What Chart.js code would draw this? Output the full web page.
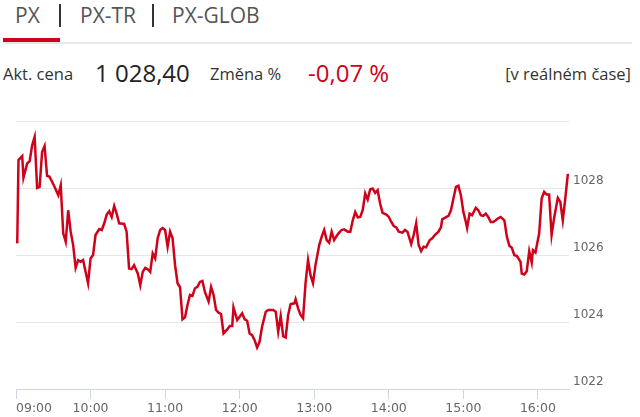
<!DOCTYPE html>
<html lang="cs">
<head>
<meta charset="utf-8">
<script src="https://cdn.jsdelivr.net/npm/chart.js@4.4.1/dist/chart.umd.min.js"></script>
<style>
  html, body { margin: 0; padding: 0; background: #fff; }
  body { width: 640px; height: 417px; position: relative; overflow: hidden; font-family: "Open Sans", sans-serif; }
  .t { position: absolute; white-space: nowrap; line-height: 1; }
  .tab { font-size: 21px; color: #555; top: 5px; }
  .sep { position: absolute; top: 4px; width: 2px; height: 23px; background: #333; }
  .lbl { font-size: 16.5px; color: #333; top: 66px; }
  .val { font-size: 24px; top: 61px; }
  #wrap { position: absolute; left: 0; top: 110px; width: 640px; height: 307px; }
</style>
</head>
<body>
<div class="t tab" style="left:15px">PX</div>
<div class="sep" style="left:59px"></div>
<div class="t tab" style="left:80px">PX-TR</div>
<div class="sep" style="left:152px"></div>
<div class="t tab" style="left:172px">PX-GLOB</div>
<div style="position:absolute;left:3px;top:42px;width:629px;height:2px;background:#e8e8e8"></div>
<div style="position:absolute;left:3px;top:38px;width:57px;height:4px;background:#d0021b"></div>

<div class="t lbl" style="left:3px">Akt. cena</div>
<div class="t val" style="left:95px;color:#222">1 028,40</div>
<div class="t lbl" style="left:210px">Změna %</div>
<div class="t val" style="left:308px;color:#d0021b">-0,07 %</div>
<div class="t lbl" style="right:9px">[v reálném čase]</div>

<div id="wrap"><canvas id="chart"></canvas></div>

<script>
// minutes after midnight
const times = [541, 542, 545, 546, 549, 551, 553, 555, 557, 559, 561, 563, 565, 567, 569, 571, 574, 576, 578, 580,
  582, 584, 586, 588, 590, 592, 594, 596, 598, 600, 602, 604, 607, 609, 611, 613, 615, 617, 619, 621,
  623, 627, 629, 631, 633, 635, 638, 640, 642, 644, 646, 648, 650, 652, 654, 656, 658, 660, 662, 664,
  666, 668, 670, 672, 674, 676, 678, 680, 682, 684, 686, 688, 690, 692, 695, 697, 699, 701, 703, 705,
  707, 710, 712, 714, 715, 718, 720, 722, 724, 726, 728, 730, 732, 734, 736, 738, 741, 743, 747, 749,
  751, 753, 755, 757, 759, 761, 764, 765, 767, 769, 771, 773, 775, 777, 779, 781, 784, 786, 788, 790,
  792, 794, 796, 798, 800, 802, 804, 807, 809, 811, 813, 815, 817, 819, 821, 823, 825, 827, 829, 831,
  833, 835, 838, 840, 842, 844, 846, 848, 851, 853, 855, 858, 860, 862, 864, 866, 868, 870, 873, 875,
  877, 880, 882, 883, 885, 888, 890, 892, 894, 896, 898, 900, 902, 903, 905, 907, 910, 912, 914, 916,
  918, 920, 922, 924, 926, 928, 930, 933, 935, 937, 939, 941, 943, 946, 947, 949, 951, 953, 955, 956,
  958, 961, 963, 965, 967, 969, 971, 973, 976, 978, 980, 982, 984, 985];

const prices = [1026.35, 1028.84, 1028.96, 1028.31, 1028.74, 1028.81, 1029.28, 1029.53, 1028.01, 1028.04,
  1029.08, 1029.26, 1028.37, 1028.34, 1028.19, 1028.04, 1027.79, 1028.09, 1026.65, 1026.40,
  1027.34, 1026.70, 1026.30, 1025.62, 1025.85, 1025.80, 1025.85, 1025.50, 1025.16, 1025.90,
  1026.00, 1026.60, 1026.78, 1026.75, 1026.95, 1027.21, 1027.31, 1027.14, 1027.47, 1027.24,
  1026.95, 1026.93, 1026.70, 1025.60, 1025.58, 1025.70, 1025.45, 1025.10, 1025.50, 1025.62,
  1025.58, 1025.50, 1026.05, 1025.90, 1026.50, 1026.75, 1026.81, 1026.75, 1026.25, 1026.70,
  1026.50, 1025.70, 1025.16, 1025.04, 1024.08, 1024.14, 1024.51, 1024.81, 1024.78, 1025.01,
  1025.05, 1025.20, 1025.23, 1024.90, 1024.61, 1025.05, 1024.81, 1024.36, 1024.28, 1024.24,
  1023.66, 1023.78, 1023.88, 1023.88, 1024.44, 1024.06, 1024.16, 1024.26, 1024.08, 1024.04,
  1023.66, 1023.61, 1023.46, 1023.24, 1023.41, 1023.86, 1024.31, 1024.36, 1024.36, 1024.31,
  1023.71, 1024.18, 1023.58, 1023.54, 1024.21, 1024.54, 1024.56, 1024.68, 1024.41, 1024.21,
  1024.11, 1025.16, 1025.85, 1025.40, 1025.16, 1025.70, 1026.30, 1026.55, 1026.75, 1026.45,
  1026.37, 1026.70, 1026.45, 1026.57, 1026.67, 1026.75, 1026.77, 1026.70, 1026.70, 1027.04,
  1027.29, 1027.13, 1027.14, 1027.34, 1027.84, 1027.66, 1027.96, 1027.99, 1027.86, 1027.94,
  1027.54, 1027.26, 1027.21, 1027.14, 1026.99, 1026.87, 1026.83, 1026.70, 1026.67, 1026.75,
  1026.70, 1026.33, 1026.60, 1026.95, 1026.30, 1026.12, 1026.25, 1026.23, 1026.45, 1026.50,
  1026.60, 1026.70, 1026.84, 1027.07, 1027.11, 1027.17, 1027.34, 1027.69, 1028.04, 1028.07,
  1027.79, 1027.29, 1026.99, 1026.81, 1027.24, 1027.19, 1027.41, 1027.34, 1027.19, 1027.17,
  1027.24, 1027.14, 1026.99, 1026.99, 1027.04, 1027.10, 1027.14, 1027.04, 1026.55, 1026.28,
  1026.22, 1026.00, 1025.98, 1025.80, 1025.45, 1025.42, 1025.52, 1026.12, 1025.78, 1026.15,
  1026.08, 1026.65, 1027.69, 1027.89, 1027.81, 1027.81, 1026.60, 1027.10, 1027.71, 1027.59,
  1027.04, 1027.69, 1028.39, 1028.40];

const xTicks = [540, 600, 660, 720, 780, 840, 900, 960];
const yTicks = [1022, 1024, 1026, 1028, 1030];
const xMin = 540, xMax = 985;

const hhmm = (m) => String(Math.floor(m / 60)).padStart(2, "0") + ":" + String(m % 60).padStart(2, "0");

const ctx = document.getElementById("chart").getContext("2d");
new Chart(ctx, {
  type: "line",
  data: {
    datasets: [
      {
        data: times.map((t, i) => ({ x: t, y: prices[i] })),
        borderColor: "#d0021b",
        borderWidth: 2.5,
        pointRadius: 0,
        tension: 0,
      },
    ],
  },
  options: {
    responsive: true,
    maintainAspectRatio: false,
    animation: false,
    layout: { padding: { top: 11, left: 16, right: 0, bottom: 0 } },
    plugins: { legend: { display: false }, tooltip: { enabled: false } },
    scales: {
      x: {
        type: "linear",
        min: xMin,
        max: xMax,
        // extra tick at the end keeps the 16:00 label centred under "inner" alignment
        afterBuildTicks: (s) => { s.ticks = xTicks.concat([xMax]).map((v) => ({ value: v })); },
        afterFit: (s) => { s.height = 28; s.paddingLeft = 0; s.paddingRight = 0; },
        grid: {
          drawOnChartArea: false,
          drawTicks: true,
          tickLength: 10,
          tickColor: (c) => (c.tick && c.tick.value === xMax ? "rgba(0,0,0,0)" : "#ccd6eb"),
        },
        border: { color: "#ccd6eb", width: 1 },
        ticks: {
          align: "inner",
          maxRotation: 0,
          autoSkip: false,
          padding: 2,
          color: "#666",
          font: { family: "DejaVu Sans", size: 12.5 },
          callback: (v) => (v === xMax ? "" : hhmm(v)),
        },
      },
      y: {
        position: "right",
        min: 1022,
        max: 1030,
        afterBuildTicks: (s) => { s.ticks = yTicks.map((v) => ({ value: v })); },
        afterFit: (s) => { s.width = 71; },
        grid: {
          drawTicks: false,
          color: (c) => (c.tick && c.tick.value === 1022 ? "rgba(0,0,0,0)" : "#e6e6e6"),
        },
        border: { display: false },
        ticks: {
          padding: 4,
          labelOffset: -7,
          color: "#666",
          font: { family: "DejaVu Sans", size: 12 },
          callback: (v) => (v === 1030 ? "" : String(v)),
        },
      },
    },
  },
});
</script>
</body>
</html>
